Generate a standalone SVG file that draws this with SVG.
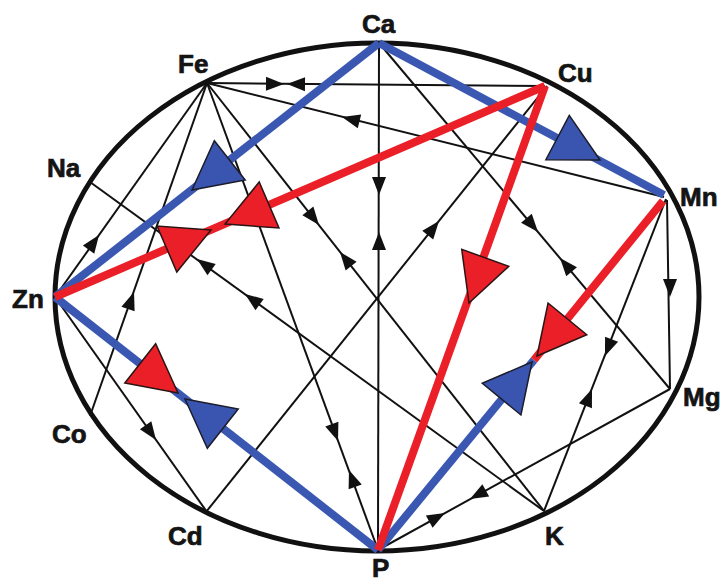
<svg xmlns="http://www.w3.org/2000/svg" xmlns:xlink="http://www.w3.org/1999/xlink" width="726" height="584" viewBox="0 0 726 584">
<style>
.lbl{font-family:"Liberation Sans","Arial",sans-serif;font-weight:bold;font-size:26px;fill:#141414;stroke:#141414;stroke-width:0.7}
.thin{stroke:#111;stroke-width:2;fill:none}
.blue{stroke:#3a58b2;stroke-width:8;fill:none}
.red{stroke:#ea1f27;stroke-width:8;fill:none}
.ah{fill:#111}
.tb{fill:#3a55b0;stroke:#1c1c2a;stroke-width:1.5;stroke-linejoin:miter}
.tr{fill:#ea1f27;stroke:#2a1414;stroke-width:1.5;stroke-linejoin:miter}
</style>
<defs>
<path id="sa" d="M0,0 L-18,-7 L-18,7 Z"/>
<path id="bt" d="M0,0 L-48,-25 L-48,25 Z"/>
</defs>
<rect width="726" height="584" fill="#fff"/>
<ellipse cx="377" cy="297" rx="322" ry="254" fill="none" stroke="#111" stroke-width="5"/>
<g id="connectors">
<g id="thin-lines">
<line class="thin" x1="207" y1="83" x2="545" y2="86"/>
<line class="thin" x1="207" y1="83" x2="664" y2="197"/>
<line class="thin" x1="207" y1="83" x2="55" y2="297"/>
<line class="thin" x1="207" y1="83" x2="90" y2="416"/>
<line class="thin" x1="207" y1="83" x2="378" y2="550"/>
<line class="thin" x1="207" y1="83" x2="544" y2="511"/>
<line class="thin" x1="379" y1="43" x2="378" y2="550"/>
<line class="thin" x1="379" y1="43" x2="670" y2="389"/>
<line class="thin" x1="90" y1="182" x2="544" y2="511"/>
<line class="thin" x1="55" y1="297" x2="207" y2="512"/>
<line class="thin" x1="547" y1="86" x2="206" y2="512"/>
<line class="thin" x1="667" y1="200" x2="670" y2="389"/>
<line class="thin" x1="544" y1="511" x2="666" y2="199"/>
<line class="thin" x1="670" y1="389" x2="378" y2="550"/>
</g>
<g id="arrowheads">
<use href="#sa" class="ah" transform="translate(284,84) rotate(0.5)"/>
<use href="#sa" class="ah" transform="translate(287,84) rotate(180.5)"/>
<use href="#sa" class="ah" transform="translate(342,117) rotate(194)"/>
<use href="#sa" class="ah" transform="translate(99,235) rotate(-54.6)"/>
<use href="#sa" class="ah" transform="translate(134,292) rotate(-70.6)"/>
<use href="#sa" class="ah" transform="translate(338,441) rotate(69.9)"/>
<use href="#sa" class="ah" transform="translate(349,470) rotate(249.9)"/>
<use href="#sa" class="ah" transform="translate(319,225) rotate(51.8)"/>
<use href="#sa" class="ah" transform="translate(340,252) rotate(231.8)"/>
<use href="#sa" class="ah" transform="translate(379,195) rotate(90)"/>
<use href="#sa" class="ah" transform="translate(379,232) rotate(270)"/>
<use href="#sa" class="ah" transform="translate(538,232) rotate(49.9)"/>
<use href="#sa" class="ah" transform="translate(560,258) rotate(229.9)"/>
<use href="#sa" class="ah" transform="translate(197,259) rotate(215.9)"/>
<use href="#sa" class="ah" transform="translate(245,294) rotate(215.9)"/>
<use href="#sa" class="ah" transform="translate(156,440) rotate(54.7)"/>
<use href="#sa" class="ah" transform="translate(439,221) rotate(-51.3)"/>
<use href="#sa" class="ah" transform="translate(670,297) rotate(90)"/>
<use href="#sa" class="ah" transform="translate(605,356) rotate(111.4)"/>
<use href="#sa" class="ah" transform="translate(592,389) rotate(-68.6)"/>
<use href="#sa" class="ah" transform="translate(470,499) rotate(151.1)"/>
<use href="#sa" class="ah" transform="translate(445,513) rotate(-28.9)"/>
</g>
<g id="thick-lines">
<line class="blue" x1="55" y1="297" x2="379" y2="43"/>
<line class="blue" x1="379" y1="43" x2="664" y2="195"/>
<line class="blue" x1="55" y1="297" x2="378" y2="550"/>
<line class="blue" x1="534" y1="360" x2="378" y2="550"/>
<line class="red" x1="55" y1="297" x2="545" y2="86"/>
<line class="red" x1="545" y1="86" x2="378" y2="550"/>
<line class="red" x1="663" y1="201" x2="534" y2="360"/>
</g>
<g id="big-arrowheads">
<use href="#bt" class="tb" transform="translate(192,190) rotate(141.9)"/>
<use href="#bt" class="tb" transform="translate(600,160) rotate(27.9)"/>
<use href="#bt" class="tr" transform="translate(211,230) rotate(-23.3)"/>
<use href="#bt" class="tr" transform="translate(225,224) rotate(156.7)"/>
<use href="#bt" class="tr" transform="translate(469,303) rotate(109.8)"/>
<use href="#bt" class="tr" transform="translate(537,356) rotate(129.3)"/>
<use href="#bt" class="tb" transform="translate(532,362) rotate(-50.7)"/>
<use href="#bt" class="tr" transform="translate(178,393) rotate(38.1)"/>
<use href="#bt" class="tb" transform="translate(185,399) rotate(218.1)"/>
</g>
</g>
<g id="node-Ca"><text class="lbl" x="362" y="33">Ca</text></g>
<g id="node-Fe"><text class="lbl" x="178" y="73">Fe</text></g>
<g id="node-Cu"><text class="lbl" x="558" y="82">Cu</text></g>
<g id="node-Na"><text class="lbl" x="47" y="177">Na</text></g>
<g id="node-Mn"><text class="lbl" x="680" y="206">Mn</text></g>
<g id="node-Zn"><text class="lbl" x="12" y="308">Zn</text></g>
<g id="node-Mg"><text class="lbl" x="683" y="406">Mg</text></g>
<g id="node-Co"><text class="lbl" x="52" y="443">Co</text></g>
<g id="node-Cd"><text class="lbl" x="168" y="545">Cd</text></g>
<g id="node-K"><text class="lbl" x="545" y="545">K</text></g>
<g id="node-P"><text class="lbl" x="372" y="577">P</text></g>
</svg>
